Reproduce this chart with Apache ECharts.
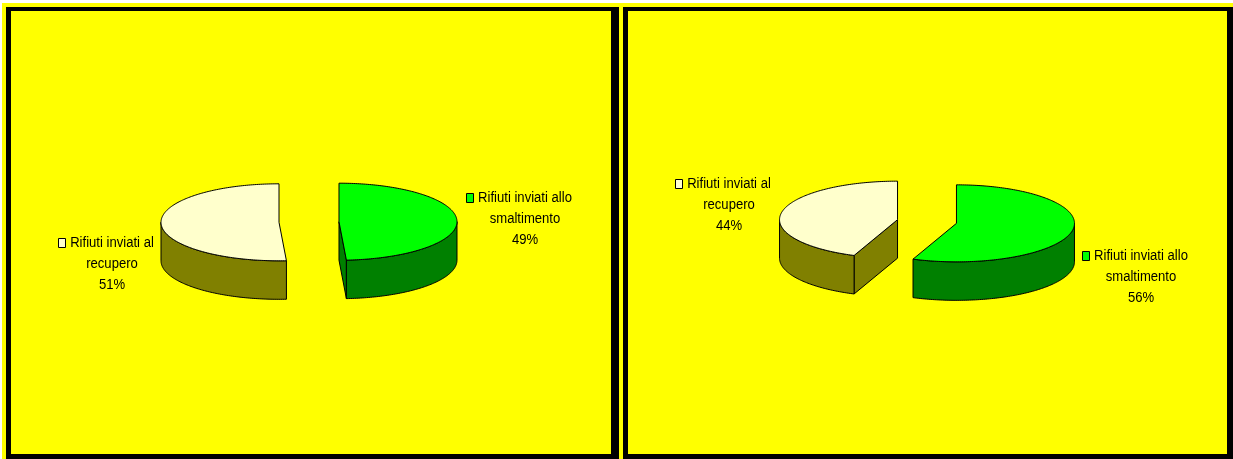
<!DOCTYPE html>
<html>
<head>
<meta charset="utf-8">
<script src="https://cdn.jsdelivr.net/npm/echarts@6/dist/echarts.min.js"></script>
<style>
  html, body { margin: 0; padding: 0; background: #ffffff; }
  #chart { width: 1233px; height: 459px; }
</style>
</head>
<body>
<div id="chart"></div>
<script>
// ---------------- DATA ----------------
const categories = ['Rifiuti inviati al recupero', 'Rifiuti inviati allo smaltimento'];
// one value per panel (left panel, right panel), in percent
const recuperoValues = [51, 44];
const smaltimentoValues = [49, 56];

// ---------------- STYLE / LAYOUT ----------------
const topColors  = ['#FFFFCC', '#00FF00'];
const sideColors = ['#808000', '#008000'];
const FONT = '14px "Liberation Sans", Arial, sans-serif';
const TEXT_SCALE_X = 0.935;
const RX = 118, RY = 38.5, DEPTH = 38.5, EXPLODE = 30;
const pieCenters = [[309, 222], [927, 221.5]];
// label anchor (middle line centre) relative to pie centre: [panel][category]
const labelOffsets = [
  [[-197, 42], [216, -3]],
  [[-198, -16.5], [214, 55.5]]
];
const LINE_H = 21;

const measureCtx = document.createElement('canvas').getContext('2d');
measureCtx.font = FONT;
function textWidth(t) { return measureCtx.measureText(t).width * TEXT_SCALE_X; }

function ellPts(cx, cy, a, b, dy) {
  const n = Math.max(2, Math.ceil(Math.abs(b - a) / (Math.PI / 180)));
  const pts = [];
  for (let i = 0; i <= n; i++) {
    const t = a + (b - a) * i / n;
    pts.push([cx + RX * Math.cos(t), cy + RY * Math.sin(t) + dy]);
  }
  return pts;
}

function makeRenderer(panel) {
  const vals = [recuperoValues[panel], smaltimentoValues[panel]];
  const sum = vals[0] + vals[1];
  // smaltimento goes clockwise from 12 o'clock, recupero fills the rest
  const aS = -Math.PI / 2, bS = aS + 2 * Math.PI * vals[1] / sum;
  const ranges = [[bS, 3 * Math.PI / 2], [aS, bS]];
  return function (params, api) {
    const i = params.dataIndex;
    const v = api.value(0);
    const [a, b] = ranges[i];
    const m = (a + b) / 2;
    const [pcx, pcy] = pieCenters[panel];
    const cx = pcx + EXPLODE * Math.cos(m);
    const cy = pcy + EXPLODE * (RY / RX) * Math.sin(m);
    const children = [];
    const st = (fill) => ({ fill: fill, stroke: '#000', lineWidth: 1, lineJoin: 'round' });
    // cut faces
    const eps = 1e-3;
    if (Math.cos(a) < -eps) {
      const p = [cx + RX * Math.cos(a), cy + RY * Math.sin(a)];
      children.push({ type: 'polygon', shape: { points: [[cx, cy], p, [p[0], p[1] + DEPTH], [cx, cy + DEPTH]] }, style: st(sideColors[i]) });
    }
    if (Math.cos(b) > eps) {
      const p = [cx + RX * Math.cos(b), cy + RY * Math.sin(b)];
      children.push({ type: 'polygon', shape: { points: [[cx, cy], p, [p[0], p[1] + DEPTH], [cx, cy + DEPTH]] }, style: st(sideColors[i]) });
    }
    // outer side (front half only)
    const s = Math.max(a, 0), t = Math.min(b, Math.PI);
    if (t > s) {
      const top = ellPts(cx, cy, s, t, 0);
      const bot = ellPts(cx, cy, t, s, DEPTH);
      children.push({ type: 'polygon', shape: { points: top.concat(bot) }, style: st(sideColors[i]) });
    }
    // top face
    children.push({ type: 'polygon', shape: { points: [[cx, cy]].concat(ellPts(cx, cy, a, b, 0)) }, style: st(topColors[i]) });

    // label
    const name = categories[i];
    const k = name.lastIndexOf(' ');
    const lines = [name.slice(0, k), name.slice(k + 1), Math.round(v / sum * 100) + '%'];
    const lx = pcx + labelOffsets[panel][i][0];
    const ly = pcy + labelOffsets[panel][i][1];
    lines.forEach((ln, j) => {
      children.push({
        type: 'text', x: lx, y: ly + (j - 1) * LINE_H, scaleX: TEXT_SCALE_X,
        style: { text: ln, x: 0, y: 0, font: FONT, fill: '#000', align: 'center', verticalAlign: 'middle' }
      });
    });
    const w = textWidth(lines[0]);
    const left = lx - w / 2;
    children.push({ type: 'rect', shape: { x: Math.round(left - 12) + 0.5, y: Math.round(ly - LINE_H - 5) + 0.5, width: 7, height: 9 }, style: { fill: topColors[i], stroke: '#000', lineWidth: 1 } });
    return { type: 'group', children: children };
  };
}

const chart = echarts.init(document.getElementById('chart'), null, { renderer: 'canvas' });
chart.setOption({
  animation: false,
  backgroundColor: '#ffffff',
  graphic: [
    { type: 'rect', z: -10, shape: { x: 2, y: 3, width: 1231, height: 456 }, style: { fill: '#FFFF00' } },
    { type: 'rect', z: -9, shape: { x: 6, y: 7, width: 613, height: 452 }, style: { fill: '#000' } },
    { type: 'rect', z: -8, shape: { x: 11, y: 11, width: 600, height: 443 }, style: { fill: '#FFFF00' } },
    { type: 'rect', z: -9, shape: { x: 623, y: 7, width: 610, height: 452 }, style: { fill: '#000' } },
    { type: 'rect', z: -8, shape: { x: 628, y: 11, width: 599, height: 443 }, style: { fill: '#FFFF00' } }
  ],
  series: [0, 1].map(panel => ({
    type: 'custom',
    coordinateSystem: 'none',
    z: 10,
    silent: true,
    renderItem: makeRenderer(panel),
    data: [[recuperoValues[panel]], [smaltimentoValues[panel]]]
  }))
});
</script>
</body>
</html>
